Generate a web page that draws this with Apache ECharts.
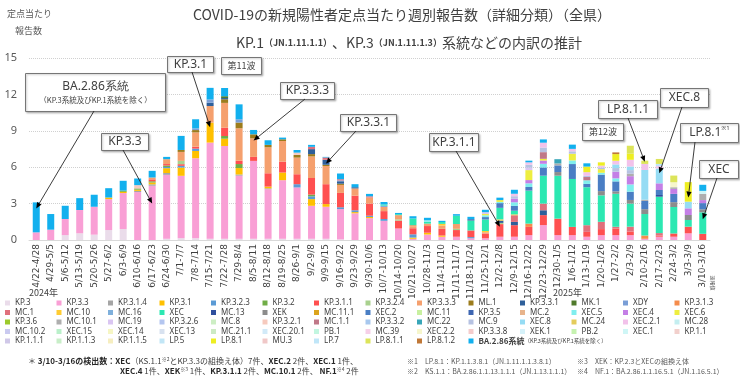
<!DOCTYPE html>
<html><head><meta charset="utf-8">
<script src="https://cdn.jsdelivr.net/npm/echarts@6/dist/echarts.min.js"></script>
<style>html,body{margin:0;padding:0;background:#fff}#c{width:740px;height:384px}</style>
</head><body><div id="c"></div>
<script>
const categories = ['4/22-4/28','4/29-5/5','5/6-5/12','5/13-5/19','5/20-5/26','5/27-6/2','6/3-6/9','6/10-6/16','6/17-6/23','6/24-6/30',
'7/1-7/7','7/8-7/14','7/15-7/21','7/22-7/28','7/29-8/4','8/5-8/11','8/12-8/18','8/19-8/25','8/26-9/1','9/2-9/8',
'9/9-9/15','9/16-9/22','9/23-9/29','9/30-10/6','10/7-10/13','10/14-10/20','10/21-10/27','10/28-11/3','11/4-11/10','11/11-11/17',
'11/18-11/24','11/25-12/1','12/2-12/8','12/9-12/15','12/16-12/22','12/23-12/29','12/30-1/5','1/6-1/12','1/13-1/19','1/20-1/26',
'1/27-2/2','2/3-2/9','2/10-2/16','2/17-2/23','2/24-3/2','3/3-3/9','3/10-3/16'];

const KP_3 = [0,0,0.4,0.55,0.44,0.82,0.9,0,0,0.1, 0.15,0.15,0.1,0.1,0.1,0.1,0.1,0.1,0.1,0.1, 0.1,0.05,0,0,0,0,0,0,0,0, 0,0,0,0,0,0,0,0,0,0, 0,0,0,0,0,0,0];
const KP_3_3 = [0.63,0.85,1.33,1.92,2.3,2.55,2.97,3.95,4.47,5.27, 5.14,6.59,7.93,7.65,5.2,6.42,4.09,4.83,4.23,2.72, 2.64,2.5,2.2,1.8,1.58,0.95,0.1,0.45,0.27,0.27, 0.14,0.14,0.27,0.27,0.4,1.23,0.4,0.4,0.27,0.4, 0.4,0.4,0.1,0.27,0.27,0.55,0];
const KP_3_1_4 = [0,0,0,0,0,0,0,0.1,0.12,0.15, 0,0,0,0,0.1,0,0.07,0,0,0, 0,0,0,0,0,0,0,0,0,0, 0,0,0,0,0,0,0,0,0,0, 0,0,0,0,0,0,0];
const KP_3_1 = [0,0,0,0,0,0.13,0.1,0.1,0.15,0.4, 0.68,0.6,1.64,0.6,0.53,0,0.14,0.63,0,0.55, 0.22,0,0.1,0.1,0,0,0.1,0.15,0.1,0, 0,0,0,0,0,0,0,0,0,0, 0,0,0,0,0,0,0];
const KP_3_2_3 = [0,0,0,0,0,0,0,0,0,0.1, 0.14,0.19,0,0,0,0,0,0,0.27,0.23, 0,0.15,0.15,0.1,0.15,0,0.27,0,0,0, 0.1,0,0,0,0,0,0,0,0,0, 0,0,0,0,0,0,0];
const KP_3_2 = [0,0,0,0,0,0,0.1,0.1,0.1,0.12, 0,0,0,0.22,0.33,0,0,0,0,0.14, 0,0,0,0,0,0,0,0,0,0, 0,0,0,0,0,0,0,0,0,0, 0,0,0,0,0,0,0];
const KP_3_1_1 = [0,0,0,0,0,0,0,0,0.16,0.12, 0.14,0.16,0,0.68,0.27,0.33,1.1,0.9,0.82,1.37, 1.64,1.18,1.2,1.0,0.65,0.65,0.5,0.55,0.55,0.55, 0.55,0.4,1.04,0.95,0.68,0.82,1.36,0.68,0.4,0.5, 0.55,0.3,0,0.1,0.27,0.55,0.51];
const KP_3_2_4 = [0,0,0,0,0,0,0,0,0,0, 0.27,0,0,0,0,0,0,0,0,0, 0,0,0,0,0,0.1,0,0,0,0.1, 0,0,0.1,0,0,0,0,0,0,0, 0,0,0,0,0,0,0];
const KP_3_3_3 = [0,0,0,0,0,0,0,0,0.15,0.4, 0.74,1.18,1.37,2.05,2.68,1.53,2.14,1.7,1.37,1.78, 1.5,0.66,0.6,0.5,0.35,0.35,0.15,0.2,0.27,0.4, 0,0.1,0,0,0,0,0,0,0,0, 0,0,0,0,0,0,0];
const ML_1 = [0,0,0,0,0,0,0,0,0,0, 0.16,0.19,0,0.3,0.47,0.33,0.2,0.14,0.22,0.19, 0.1,0.1,0,0,0,0,0,0,0,0, 0,0,0,0,0,0,0,0,0,0, 0,0,0,0,0,0,0];
const KP_3_3_1 = [0,0,0,0,0,0,0,0,0,0, 0,0,0.27,0.1,0,0,0,0,0,0.41, 0.41,0.2,0.1,0,0,0,0,0,0,0, 0,0,0.19,0.27,0,0.4,0,0,0,0, 0,0,0,0,0,0,0];
const MK_1 = [0,0,0,0,0,0,0,0,0,0, 0,0,0,0.15,0,0,0,0,0,0, 0,0,0,0,0,0,0,0,0,0, 0,0,0,0,0,0,0,0,0,0, 0,0,0,0,0,0,0];
const XDY = [0,0,0,0,0,0,0,0,0,0, 0,0.14,0.27,0,0.27,0,0,0,0,0, 0,0.07,0,0,0.1,0,0,0,0,0, 0,0,0,0,0,0,0,0,0,0, 0,0,0,0,0,0,0];
const KP_3_1_3 = [0,0,0,0,0,0,0,0,0,0, 0,0,0,0,0,0,0,0,0,0, 0,0,0,0,0,0,0.1,0,0,0, 0,0,0,0,0.27,0,0,0,0,0, 0,0,0.27,0,0,0,0];
const MC_1 = [0,0,0,0,0,0,0,0,0,0, 0,0,0,0,0,0,0,0,0,0.19, 0.19,0.1,0,0.1,0,0,0,0,0,0, 0,0,0,0.55,0,0.55,0,0,0.55,0.6, 0.14,0.4,0,0.2,0,0,0];
const MC_10 = [0,0,0,0,0,0,0,0,0,0, 0,0,0,0,0,0,0,0,0,0, 0,0,0,0,0,0,0,0,0.14,0, 0,0.1,0.1,0.07,0,0,0,0,0,0, 0,0,0,0,0,0,0];
const XEC = [0,0,0,0,0,0,0,0,0,0, 0,0,0,0,0,0,0,0,0,0, 0,0,0,0,0.1,0.08,0.55,0.15,0.15,0.68, 0.82,0.95,0.95,0.3,2.72,2.3,3.54,3.95,3.13,2.18, 2.72,1.9,1.77,3.0,2.18,0.55,1.77];
const MC_13 = [0,0,0,0,0,0,0,0,0,0, 0,0,0,0,0,0,0,0,0,0, 0,0,0,0,0,0,0,0,0,0, 0.1,0,0,0,0,0,0,0,0,0, 0,0,0,0.14,0,0,0];
const XEK = [0,0,0,0,0,0,0,0,0,0, 0,0,0,0,0,0,0,0,0,0, 0,0,0,0,0,0,0,0,0,0, 0,0,0,0,0,0,0.3,0,0,0.35, 0.2,0.3,0.4,0,0.4,0.41,0.25];
const XEC_2 = [0,0,0,0,0,0,0,0,0,0, 0,0,0,0,0,0,0,0,0,0, 0,0,0,0,0,0,0,0,0,0, 0,0.2,0.39,0.4,0.3,0.68,0.55,1.23,0.27,1.36, 0.82,0.68,0.68,0.41,0.68,0,0.51];
const XEC_5 = [0,0,0,0,0,0,0,0,0,0, 0,0,0,0,0,0,0,0,0,0, 0,0,0,0,0,0,0,0.13,0,0, 0,0.15,0.1,0.3,0.3,0.3,0,0.3,0.3,0.15, 0.25,0.6,0,0,0,0,0];
const XEC_4 = [0,0,0,0,0,0,0,0,0,0, 0,0,0,0,0,0,0,0,0,0, 0,0,0,0,0,0,0,0,0,0, 0,0,0,0.3,0.27,0.27,0,0,0,0, 0.55,0.68,0,0.55,0.41,0.55,0.25];
const XEC_6 = [0,0,0,0,0,0,0,0,0,0, 0,0,0,0,0,0,0,0,0,0, 0,0,0,0,0,0,0,0,0,0, 0,0.1,0.15,0,0.82,0.14,0,0.55,0,0.3, 0,0,0,0,0,0,0];
const MC_10_1 = [0,0,0,0,0,0,0,0,0,0, 0,0,0,0,0,0,0,0,0,0, 0,0,0,0,0,0,0,0,0,0, 0,0,0,0,0,0,0.16,0,0,0, 0,0.2,0.1,0,0.14,0,0.51];
const MC_19 = [0,0,0,0,0,0,0,0,0,0, 0,0,0,0,0,0,0,0,0,0, 0,0,0,0,0,0,0,0,0,0, 0,0.15,0,0,0.2,0,0,0,0,0, 0,0,0,0,0,0,0];
const KP_3_2_1 = [0,0,0,0,0,0,0,0.27,0,0, 0,0,0,0,0,0,0,0,0.19,0, 0,0,0,0,0,0,0,0,0,0, 0,0,0,0,0,0,0,0,0,0, 0,0,0,0,0,0,0];
const MC_1_1 = [0,0,0,0,0,0,0,0,0,0, 0,0,0,0,0,0,0,0,0,0, 0,0,0,0,0,0,0,0,0,0, 0,0,0,0,0,0.55,0,0,0.27,0, 0,0,0,0,0,0,0];
const MC_22 = [0,0,0,0,0,0,0,0,0,0, 0,0,0,0,0,0,0,0,0,0, 0,0,0,0,0,0,0,0,0,0, 0,0,0,0,0,0,0.35,0,0,0, 0,0,0,0,0,0,0];
const MC_9 = [0,0,0,0,0,0,0,0,0,0, 0,0,0,0,0,0,0,0,0,0, 0,0,0,0,0,0,0,0,0,0, 0,0,0,0.2,0.24,0.38,0,0.2,0.1,0.14, 0.3,0.3,0,0,0,0,0];
const XEC_8 = [0,0,0,0,0,0,0,0,0,0, 0,0,0,0,0,0,0,0,0,0, 0,0,0,0,0,0,0,0,0,0, 0,0,0,0,0,0,0,0,0,0, 0.3,0.3,2.45,1.22,0,0.55,0];
const XEC_2_1 = [0,0,0,0,0,0,0,0,0,0, 0,0,0,0,0,0,0,0,0,0, 0,0,0,0,0,0,0,0,0,0, 0,0,0,0.2,0.2,0.4,0,0.2,0.3,0.15, 0.3,0.55,0.5,0.2,0,0,0];
const XEC_2_2 = [0,0,0,0,0,0,0,0,0,0, 0,0,0,0,0,0,0,0,0,0, 0,0,0,0,0,0,0,0,0,0, 0,0,0,0,0,0,0,0,0,0, 0,0,0,0,0.41,0,0];
const XEC_1 = [0,0,0,0,0,0,0,0,0,0, 0,0,0,0,0,0,0,0,0,0, 0,0,0,0,0,0,0,0,0,0, 0,0,0,0,0,0,0,0,0,0, 0,0,0,0,0,0,0.25];
const LP_7 = [0,0,0,0,0,0,0,0,0,0, 0,0,0,0,0,0,0,0,0,0, 0,0,0,0,0,0,0,0,0,0, 0,0,0,0,0,0,0,0,0,0, 0,0,0,0.18,0,0,0];
const LP_8_1 = [0,0,0,0,0,0,0,0,0,0, 0,0,0,0,0,0,0,0,0,0, 0,0,0,0,0,0,0,0,0,0, 0,0,0,0,0,0,0,0,0.46,0.27, 0.55,0.5,0,0,0,1.61,0];
const LP_8_1_1 = [0,0,0,0,0,0,0,0,0,0, 0,0,0,0,0,0,0,0,0,0, 0,0,0,0,0,0,0,0,0,0, 0,0,0,0,0,0,0,0,0,0, 0,0.66,0.27,0.41,0.55,0,0];
const LP_8_1_2 = [0,0,0,0,0,0,0,0,0,0, 0,0,0,0,0,0,0,0,0,0, 0,0,0,0,0,0,0,0,0,0, 0,0,0,0,0,0,0,0,0,0, 0.14,0,0,0,0,0,0];
const BA_2_86 = [2.47,1.29,1.09,0.98,0.99,0.77,0.81,0.55,0.55,0.19, 1.16,0.75,0.96,0.68,1.23,0.36,0.38,0.14,0.22,0.16, 0.05,0.47,0.25,0.2,0.2,0.1,0.19,0.2,0.1,0.13, 0.2,0.2,0.2,0.33,0.14,0.27,0,0.35,0.27,0, 0,0,0,0,0,0,0.5];

const ROW1 = ['KP.3','KP.3.3','KP.3.1.4','KP.3.1','KP.3.2.3','KP.3.2','KP.3.1.1','KP.3.2.4','KP.3.3.3','ML.1','KP.3.3.1','MK.1','XDY','KP.3.1.3'];
const ROW2 = ['MC.1','MC.10','MC.16','XEC','MC.13','XEK','MC.11.1','XEC.2','MC.11','KP.3.5','MC.2','XEC.5','XEC.4','XEC.6'];
const ROW3 = ['KP.3.6','MC.10.1','MC.19','KP.3.2.6','MC.8','KP.3.2.1','MC.1.1','KP.3.3.2','MC.22','MC.9','XEC.8','MC.24','XEC.2.1','MC.28'];
const ROW4 = ['MC.10.2','XEC.15','XEC.14','XEC.13','MC.21.1','XEC.20.1','PB.1','MC.39','XEC.2.2','KP.3.3.8','XEK.1','PB.2','XEC.1','KP.1.1'];
const ROW5 = ['KP.1.1.1','KP.1.1.3','KP.1.1.5','LP.5','LP.8.1','MU.3','LP.7','LP.8.1.1','LP.8.1.2','BA.2.86系統'];

const seriesValues = {
 'KP.3':KP_3,'KP.3.3':KP_3_3,'KP.3.1.4':KP_3_1_4,'KP.3.1':KP_3_1,'KP.3.2.3':KP_3_2_3,'KP.3.2':KP_3_2,'KP.3.1.1':KP_3_1_1,
 'KP.3.2.4':KP_3_2_4,'KP.3.3.3':KP_3_3_3,'ML.1':ML_1,'KP.3.3.1':KP_3_3_1,'MK.1':MK_1,'XDY':XDY,'KP.3.1.3':KP_3_1_3,
 'MC.1':MC_1,'MC.10':MC_10,'XEC':XEC,'MC.13':MC_13,'XEK':XEK,'XEC.2':XEC_2,'XEC.5':XEC_5,'XEC.4':XEC_4,'XEC.6':XEC_6,
 'MC.10.1':MC_10_1,'MC.19':MC_19,'KP.3.2.1':KP_3_2_1,'MC.1.1':MC_1_1,'MC.22':MC_22,'MC.9':MC_9,'XEC.8':XEC_8,'XEC.2.1':XEC_2_1,
 'XEC.2.2':XEC_2_2,'XEC.1':XEC_1,'LP.7':LP_7,'LP.8.1':LP_8_1,'LP.8.1.1':LP_8_1_1,'LP.8.1.2':LP_8_1_2,'BA.2.86系統':BA_2_86
};

const colors = {
 'KP.3':'#eadcea','KP.3.3':'#f99fd5','KP.3.1.4':'#a5a5a5','KP.3.1':'#ffc000','KP.3.2.3':'#5b9bd5','KP.3.2':'#70ad47','KP.3.1.1':'#ff5050',
 'KP.3.2.4':'#a9d18e','KP.3.3.3':'#f5a06e','ML.1':'#9c7c1c','KP.3.3.1':'#2e5f9a','MK.1':'#507a2c','XDY':'#7a9ed6','KP.3.1.3':'#f58c4c',
 'MC.1':'#e0707c','MC.10':'#ffcc33','MC.16':'#7fb0dc','XEC':'#2ce8b2','MC.13':'#2f4f9e','XEK':'#8c8c8c','MC.11.1':'#dba41e',
 'XEC.2':'#4a7ec4','MC.11':'#c8f0a0','KP.3.5':'#3e66b2','MC.2':'#e8b48c','XEC.5':'#80eeee','XEC.4':'#c47fe6','XEC.6':'#eeee40',
 'KP.3.6':'#9cca2c','MC.10.1':'#aeaeae','MC.19':'#dac6f2','KP.3.2.6':'#b4c6f0','MC.8':'#cdeec4','KP.3.2.1':'#f6cabe','MC.1.1':'#c07888',
 'KP.3.3.2':'#a8c8ee','MC.22':'#38a6b8','MC.9':'#b6c2e2','XEC.8':'#96dcf4','MC.24':'#e4cc5c','XEC.2.1':'#f2c2ea','MC.28':'#c4eef0',
 'MC.10.2':'#cacaf0','XEC.15':'#baf0ca','XEC.14':'#f6f6c4','XEC.13':'#d8e2f0','MC.21.1':'#cceac4','XEC.20.1':'#d2eaf8','PB.1':'#c2f6e0',
 'MC.39':'#f6d0e8','XEC.2.2':'#f6f6cc','KP.3.3.8':'#f4cccc','XEK.1':'#d6f2fa','PB.2':'#c6f2b0','XEC.1':'#cff6f6','KP.1.1':'#f2d0cc',
 'KP.1.1.1':'#d0c8e8','KP.1.1.3':'#c8eec8','KP.1.1.5':'#f6eec0','LP.5':'#c2e6f6','LP.8.1':'#eeee22','MU.3':'#f0c8c8','LP.7':'#c0e6f8',
 'LP.8.1.1':'#dce45a','LP.8.1.2':'#c07838','BA.2.86系統':'#12b0ee'
};

const rows = [ROW1, ROW2, ROW3, ROW4, ROW5];
const rowY = [303, 312.5, 322, 331.5, 341];
const allNames = [].concat(...rows);

const series = allNames.map(n => ({
  name: n, type: 'bar', stack: 'all', barWidth: 7,
  data: seriesValues[n] || [],
  itemStyle: { color: colors[n], borderWidth: 0 },
  emphasis: { disabled: true }
}));

const legends = rows.map((r, i) => ({
  data: r, left: 5, top: rowY[i] - 4.5, orient: 'horizontal', padding: 0,
  itemWidth: 5, itemHeight: 5, itemGap: 0, icon: 'rect', selectedMode: false,
  formatter: i === 4 ? (n => n === 'BA.2.86系統' ? '{a|BA.2.86系統}{s|（KP.3系統及びKP.1系統を除く）}' : n) : undefined,
  textStyle: { fontSize: 8, color: '#404040', fontFamily: 'Noto Sans', width: 41.5, overflow: 'none', lineHeight: 9,
    rich: { a: { fontSize: 8, color: '#404040', fontFamily: 'Noto Sans CJK JP', fontWeight: 'bold' },
            s: { fontSize: 5.5, color: '#404040', fontFamily: 'Noto Sans CJK JP' } } }
}));

const chart = echarts.init(document.getElementById('c'), null, { renderer: 'canvas' });
chart.setOption({
  animation: false,
  backgroundColor: '#ffffff',
  grid: { left: 29, right: 30, top: 58, bottom: 144 },
  legend: legends,
  xAxis: {
    type: 'category', data: categories,
    axisTick: { show: false },
    axisLine: { lineStyle: { color: '#d9d9d9' } },
    axisLabel: { rotate: 90, interval: 0, fontSize: 9, color: '#404040', fontFamily: 'DejaVu Sans', margin: 4 }
  },
  yAxis: {
    type: 'value', min: 0, max: 15, interval: 3,
    axisLine: { show: false }, axisTick: { show: false },
    axisLabel: { fontSize: 11, color: '#595959', fontFamily: 'Noto Sans', margin: 12 },
    splitLine: { lineStyle: { color: '#d0d0d0', type: 'dotted', width: 1 } }
  },
  series: series
});

const FONT = 'Noto Sans CJK JP';
function txt(x, y, text, opt) {
  return { type: 'text', z: 100, style: Object.assign({ x: x, y: y, text: text, fontFamily: FONT, fontSize: 9, fill: '#404040',
    align: 'left', verticalAlign: 'middle', textAlign: 'left', textVerticalAlign: 'middle' }, opt || {}) };
}
const els = [];
// titles
els.push(txt(402, 15, 'COVID-19の新規陽性者定点当たり週別報告数（詳細分類）（全県）', { fontSize: 14, align: 'center', textAlign: 'center', fill: '#404040' }));
els.push(txt(409, 43, '{a|KP.1}{b|（JN.1.11.1.1）}{a|、KP.3}{b|（JN.1.11.1.3）}{a|系統などの内訳の推計}', { align: 'center', textAlign: 'center',
  rich: { a: { fontSize: 14, fontFamily: FONT, fill: '#404040' }, b: { fontSize: 9, fontWeight: 'bold', fontFamily: FONT, fill: '#404040' } } }));
els.push(txt(7, 14, '定点当たり', { fontSize: 9, fill: '#595959' }));
els.push(txt(15, 31, '報告数', { fontSize: 9, fill: '#595959' }));
els.push(txt(29, 293, '2024年', { fontSize: 9, fill: '#404040' }));
els.push(txt(553, 293, '2025年', { fontSize: 9, fill: '#404040' }));
els.push({ type: 'text', z: 100, x: 713, y: 283, rotation: -Math.PI / 2,
  style: { x: 0, y: 0, text: '速報値', fontFamily: FONT, fontSize: 5, fill: '#595959', align: 'center', verticalAlign: 'middle', textAlign: 'center', textVerticalAlign: 'middle' } });

// callouts: box [x, y, w, h], arrow start, target [categoryIndex, value]
const callouts = [
  { box: [25, 73, 140, 38], text: '{a|BA.2.86系統}\n{b|（KP.3系統及びKP.1系統を除く）}', from: [94, 111], to: [0, 2.6] },
  { box: [101, 133, 47, 17], text: '{a|KP.3.3}', from: [123, 150], to: [8, 3.0] },
  { box: [167, 56, 46, 16], text: '{a|KP.3.1}', from: [192, 72], to: [12, 9.3] },
  { box: [221, 57, 40, 17], text: '{c|第11波}' },
  { box: [280, 82, 54, 17], text: '{a|KP.3.3.3}', from: [305, 99], to: [15, 8.2] },
  { box: [340, 114, 56, 17], text: '{a|KP.3.3.1}', from: [356, 131], to: [20, 6.3] },
  { box: [429, 133, 49, 18], text: '{a|KP.3.1.1}', from: [456, 151], to: [32, 1.1] },
  { box: [582, 123, 41, 17], text: '{c|第12波}' },
  { box: [598, 100, 59, 18], text: '{a|LP.8.1.1}', from: [628, 118], to: [42, 6.45] },
  { box: [660, 88, 48, 19], text: '{a|XEC.8}', from: [682, 107], to: [43, 5.5] },
  { box: [680, 123, 58, 19], text: '{a|LP.8.1}{s|※1}', from: [695, 142], to: [45, 3.5] },
  { box: [699, 160, 39, 18], text: '{a|XEC}', from: [717, 178], to: [46, 1.7] }
];
const richBox = {
  a: { fontSize: 12, fontFamily: 'Noto Sans', fill: '#404040', lineHeight: 16 },
  b: { fontSize: 7.5, fontFamily: FONT, fill: '#404040', lineHeight: 12 },
  c: { fontSize: 9, fontFamily: FONT, fill: '#404040' },
  s: { fontSize: 6, fontFamily: 'Noto Sans', fill: '#404040', verticalAlign: 'top' }
};
callouts.forEach(c => {
  const [bx, by, bw, bh] = c.box;
  els.push({ type: 'rect', z: 90, shape: { x: bx + 0.5, y: by + 0.5, width: bw, height: bh },
    style: { fill: '#ffffff', stroke: '#767676', lineWidth: 1, shadowBlur: 2, shadowOffsetX: 1, shadowOffsetY: 1, shadowColor: 'rgba(0,0,0,0.25)' } });
  els.push(txt(bx + bw / 2 + 0.5, by + bh / 2 + 0.5, c.text, { align: 'center', textAlign: 'center', rich: richBox }));
  if (c.to) {
    const p = chart.convertToPixel({ xAxisIndex: 0, yAxisIndex: 0 }, c.to);
    const [x1, y1] = c.from; const [x2, y2] = p;
    const ang = Math.atan2(y2 - y1, x2 - x1);
    const L = 6, W = 2.6;
    const bxp = x2 - L * Math.cos(ang), byp = y2 - L * Math.sin(ang);
    els.push({ type: 'line', z: 95, shape: { x1: x1, y1: y1, x2: bxp, y2: byp }, style: { stroke: '#262626', lineWidth: 0.9 } });
    els.push({ type: 'polygon', z: 95, shape: { points: [[x2, y2],
      [bxp + W * Math.sin(ang), byp - W * Math.cos(ang)], [bxp - W * Math.sin(ang), byp + W * Math.cos(ang)]] },
      style: { fill: '#000000' } });
  }
});

// footnotes
const richFoot = {
  st: { fontSize: 8, fontFamily: FONT, fill: '#404040' },
  b: { fontSize: 8, fontWeight: 'bold', fontFamily: FONT, fill: '#262626' },
  n: { fontSize: 8, fontFamily: FONT, fill: '#404040' },
  sup: { fontSize: 5, fontFamily: FONT, fill: '#404040', verticalAlign: 'top' }
};
els.push(txt(28, 361, '{st|＊ }{b|3/10-3/16の検出数：XEC}{n|（KS.1.1}{sup|※2}{n|とKP.3.3の組換え体）7件、}{b|XEC.2}{n| 2件、}{b|XEC.1}{n| 1件、}', { rich: richFoot }));
els.push(txt(120, 371, '{b|XEC.4}{n| 1件、}{b|XEK}{sup|※3}{n| 1件、}{b|KP.3.1.1}{n| 2件、}{b|MC.10.1}{n| 2件、 }{b|NF.1}{sup|※4}{n| 2件}', { rich: richFoot }));
const fo = { fontSize: 7, fill: '#595959' };
els.push(txt(407, 361, '※1　LP.8.1：KP.1.1.3.8.1（JN.1.11.1.1.3.8.1）', fo));
els.push(txt(407, 371, '※2　KS.1.1：BA.2.86.1.1.13.1.1.1（JN.1.13.1.1.1）', fo));
els.push(txt(577, 361, '※3　XEK：KP.2.3とXECの組換え体', fo));
els.push(txt(577, 371, '※4　NF.1：BA.2.86.1.1.16.5.1（JN.1.16.5.1）', fo));

chart.setOption({ graphic: { elements: els } });
</script>
</body></html>
